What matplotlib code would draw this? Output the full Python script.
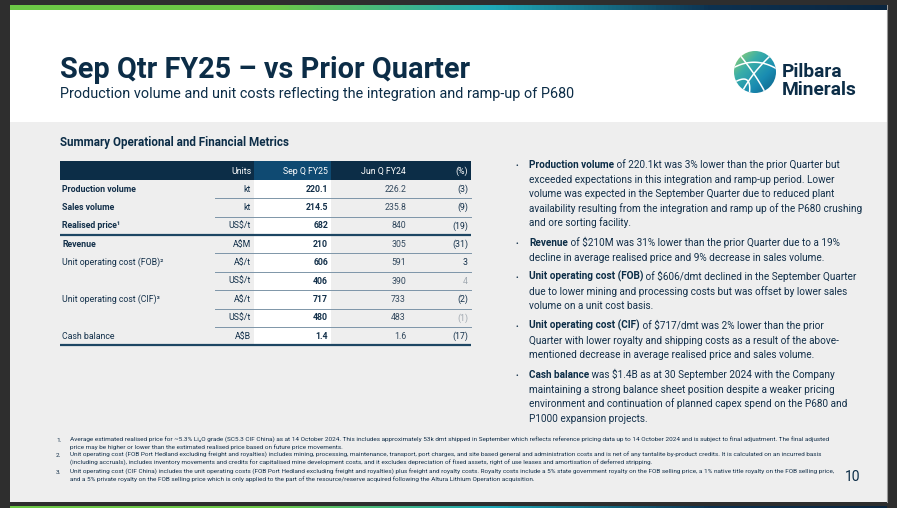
import numpy as np
import matplotlib.pyplot as plt
from matplotlib.patches import Rectangle, Circle
from matplotlib.colors import LinearSegmentedColormap

# --- slide text / table data -------------------------------------------------
title = "Sep Qtr FY25 \u2013 vs Prior Quarter"
subtitle = "Production volume and unit costs reflecting the integration and ramp-up of P680"
table_title = "Summary Operational and Financial Metrics"

col_headers = ["Units", "Sep Q FY25", "Jun Q FY24", "(%)"]
row_labels = ["Production volume", "Sales volume", "Realised price\u00b9", "Revenue",
              "Unit operating cost (FOB)\u00b2", "", "Unit operating cost (CIF)\u00b3", "",
              "Cash balance"]
label_bold = [True, True, True, True, False, False, False, False, False]
units = ["kt", "kt", "US$/t", "A$M", "A$/t", "US$/t", "A$/t", "US$/t", "A$B"]
sep_q = [220.1, 214.5, 682, 210, 606, 406, 717, 480, 1.4]
jun_q = [226.2, 235.8, 840, 305, 591, 390, 733, 483, 1.6]
pct_change = [-3, -9, -19, -31, 3, 4, -2, -1, -17]
pct_muted = [False, False, False, False, False, True, False, True, False]

bullets = [
    ("Production volume", [" of 220.1kt was 3% lower than the prior Quarter but",
                           "exceeded expectations in this integration and ramp-up period. Lower",
                           "volume was expected in the September Quarter due to reduced plant",
                           "availability resulting from the integration and ramp up of the P680 crushing",
                           "and ore sorting facility."]),
    ("Revenue", [" of $210M was 31% lower than the prior Quarter due to a 19%",
                 "decline in average realised price and 9% decrease in sales volume."]),
    ("Unit operating cost (FOB)", [" of $606/dmt declined in the September Quarter",
                                   "due to lower mining and processing costs but was offset by lower sales",
                                   "volume on a unit cost basis."]),
    ("Unit operating cost (CIF)", [" of $717/dmt was 2% lower than the prior",
                                   "Quarter with lower royalty and shipping costs as a result of the above-",
                                   "mentioned decrease in average realised price and sales volume."]),
    ("Cash balance", [" was $1.4B as at 30 September 2024 with the Company",
                      "maintaining a strong balance sheet position despite a weaker pricing",
                      "environment and continuation of planned capex spend on the P680 and",
                      "P1000 expansion projects."]),
]
bullet_y = [168, 246, 280, 329, 378]

footnotes = [
    ["Average estimated realised price for ~5.3% Li\u2082O grade (SC5.3 CIF China) as at 14 October 2024. This includes approximately 53k dmt shipped in September which reflects reference pricing data up to 14 October 2024 and is subject to final adjustment. The final adjusted",
     "price may be higher or lower than the estimated realised price based on future price movements."],
    ["Unit operating cost (FOB Port Hedland excluding freight and royalties) includes mining, processing, maintenance, transport, port charges, and site based general and administration costs and is net of any tantalite by-product credits. It is calculated on an incurred basis",
     "(including accruals), includes inventory movements and credits for capitalised mine development costs, and it excludes depreciation of fixed assets, right of use leases and amortisation of deferred stripping."],
    ["Unit operating cost (CIF China) includes the unit operating costs (FOB Port Hedland excluding freight and royalties) plus freight and royalty costs. Royalty costs include a 5% state government royalty on the FOB selling price, a 1% native title royalty on the FOB selling price,",
     "and a 5% private royalty on the FOB selling price which is only applied to the part of the resource/reserve acquired following the Altura Lithium Operation acquisition."],
]
footnote_y = [442, 457, 474]
page_no = "10"

# --- colours -----------------------------------------------------------------
NAVY = "#0c2d47"
TEXT = "#13304a"
FONT = ["Roboto", "DejaVu Sans"]

fig = plt.figure(figsize=(8.97, 5.08), dpi=100, facecolor="#2e2e2e")
ax = fig.add_axes([0, 0, 1, 1])
ax.set_xlim(0, 897)
ax.set_ylim(508, 0)
ax.axis("off")
renderer = fig.canvas.get_renderer()


def txt(x, y, s, **kw):
    kw.setdefault("family", FONT)
    kw.setdefault("color", TEXT)
    kw.setdefault("zorder", 5)
    return ax.text(x, y, s, parse_math=False, **kw)


def size_for(s, width, weight="normal"):
    t = txt(0, 0, s, fontsize=10, fontweight=weight)
    w = t.get_window_extent(renderer).width
    t.remove()
    return 10 * width / w


# slide background
ax.add_patch(Rectangle((10, 5), 877, 497, facecolor="#eeeeee", edgecolor="none", zorder=1))
ax.add_patch(Rectangle((10, 5), 877, 117, facecolor="white", edgecolor="none", zorder=1))
ax.plot([886.5, 886.5], [5, 502], color="#9a9a9a", lw=0.8, zorder=1)

# top gradient bar (and the next slide's bar peeking at the bottom)
bar_cmap = LinearSegmentedColormap.from_list(
    "bar", [(0, "#6cc846"), (0.3, "#6cc846"), (0.55, "#1fa9b8"), (0.8, "#0c3150"), (1, "#0a2640")])
nseg = 220
seg_w = 877 / nseg
for k in range(nseg):
    c = bar_cmap((k + 0.5) / nseg)
    for y0, h in [(4.5, 5.5), (505.5, 2.5)]:
        ax.add_patch(Rectangle((10 + k * seg_w, y0), seg_w + 0.3, h, facecolor=c,
                               edgecolor="none", zorder=2))

# title block
txt(60, 78, title, fontsize=size_for(title, 410, "bold"), fontweight="bold", color=NAVY, va="baseline")
txt(60, 98, subtitle, fontsize=size_for(subtitle, 515), color=NAVY, va="baseline")

# logo globe
gx, gy, gr = 755, 72, 21
globe = Circle((gx, gy), gr, transform=ax.transData)
yy, xx = np.mgrid[0:1:100j, 0:1:100j]
globe_cmap = LinearSegmentedColormap.from_list("globe", ["#9fd46a", "#3aaea8", "#1a8cb2", "#0c5f86"])
im = ax.imshow((xx * 0.5 + yy * 0.5), cmap=globe_cmap, extent=(gx - gr, gx + gr, gy + gr, gy - gr),
               zorder=3)
im.set_clip_path(globe)
s = np.linspace(0, 1, 50)[:, None]
curves = [((-16, -18), (2, 4), (12, 24)),     # top-left to bottom-right
          ((16, -17), (-4, 2), (-14, 22)),    # top-right to bottom-left
          ((-22, -4), (0, -16), (22, -3)),    # upper arc
          ((-20, 10), (-2, 0), (-6, 24))]     # lower-left arc
for p0, p1, p2 in curves:
    p0, p1, p2 = np.array(p0), np.array(p1), np.array(p2)
    pts = (1 - s) ** 2 * p0 + 2 * (1 - s) * s * p1 + s ** 2 * p2
    ln, = ax.plot(gx + pts[:, 0], gy + pts[:, 1], color="white", lw=1.1, zorder=4)
    ln.set_clip_path(globe)
logo_size = size_for("Minerals", 75, "bold")
txt(782, 77, "Pilbara", fontsize=logo_size, fontweight="bold", color=NAVY, va="baseline")
txt(782, 95, "Minerals", fontsize=logo_size, fontweight="bold", color=NAVY, va="baseline")

# table
txt(60, 146, table_title, fontsize=size_for(table_title, 228, "bold"), fontweight="bold",
    color=NAVY, va="baseline")
tx0, tx1 = 60, 471
ax.add_patch(Rectangle((tx0, 161), tx1 - tx0, 19, facecolor=NAVY, edgecolor="none", zorder=2))
ax.add_patch(Rectangle((254, 161), 77, 19, facecolor="#0f4a72", edgecolor="none", zorder=2))
ax.add_patch(Rectangle((254, 180), 77, 164, facecolor="white", edgecolor="none", zorder=2))

tsize = size_for("Production volume", 74, "bold")
col_right = [251, 328, 406, 468]
for x, h in zip(col_right, col_headers):
    txt(x, 171, h, fontsize=tsize, color="white", ha="right", va="center")

row_y0, row_h = 189, 18.4
for i, lab in enumerate(row_labels):
    y = row_y0 + i * row_h
    txt(62, y, lab, fontsize=tsize, fontweight="bold" if label_bold[i] else "normal", va="center")
    txt(col_right[0], y, units[i], fontsize=tsize, va="center", ha="right")
    txt(col_right[1], y, f"{sep_q[i]:g}", fontsize=tsize, fontweight="bold", va="center", ha="right")
    txt(col_right[2], y, f"{jun_q[i]:g}", fontsize=tsize, color="#33495e", va="center", ha="right")
    p = pct_change[i]
    ptxt = f"({abs(p)})" if p < 0 else f"{p}"
    txt(col_right[3], y, ptxt, fontsize=tsize, va="center", ha="right",
        color="#a0a8b0" if pct_muted[i] else TEXT)
    yl = y + row_h / 2
    if i in (2, 8):
        ax.plot([tx0, tx1], [yl, yl], color="#1d4663", lw=1.6, solid_capstyle="butt", zorder=3)
    else:
        ax.plot([215, tx1], [yl, yl], color="#7d95a8", lw=0.7, zorder=3)

# bullets
bsize = size_for("exceeded expectations in this integration and ramp-up period. Lower", 303)
line_h = 14.6
for (head, lines), y in zip(bullets, bullet_y):
    txt(515, y, "\u2022", fontsize=bsize * 0.8, va="baseline", color=TEXT)
    b = txt(529, y, head, fontsize=bsize, fontweight="bold", va="baseline", color=NAVY)
    ax.annotate(lines[0], xy=(1, 0), xycoords=b, va="bottom", ha="left", fontsize=bsize,
                family=FONT, color=TEXT, annotation_clip=False, zorder=5)
    for k, ln in enumerate(lines[1:], start=1):
        txt(529, y + k * line_h, ln, fontsize=bsize, va="baseline")

# footnotes
fsize = size_for(footnotes[0][0], 764)
for i, (fn, y) in enumerate(zip(footnotes, footnote_y)):
    txt(56, y, f"{i + 1}.", fontsize=fsize, va="baseline")
    for k, ln in enumerate(fn):
        txt(70, y + k * 7.5, ln, fontsize=fsize, va="baseline")
txt(845, 481, page_no, fontsize=10, color=NAVY, va="baseline")

fig.savefig("out.png", dpi=100, facecolor=fig.get_facecolor())
